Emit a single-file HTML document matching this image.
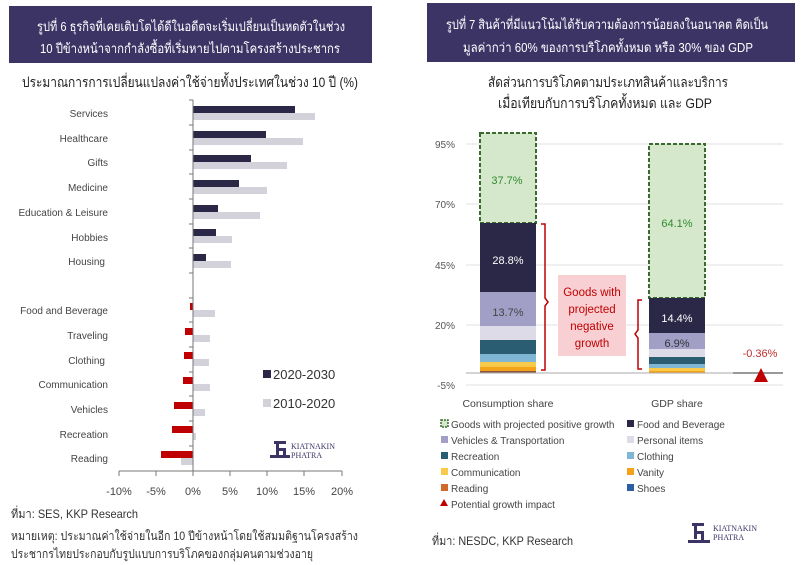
<!DOCTYPE html>
<html><head><meta charset="utf-8"><style>
body{margin:0;background:#fff;}
svg{display:block;font-family:"Liberation Sans","Noto Sans CJK SC","WenQuanYi Zen Hei",sans-serif;}
</style></head><body>
<svg width="802" height="565" viewBox="0 0 802 565" xmlns="http://www.w3.org/2000/svg">
<rect width="802" height="565" fill="#fff"/>
<!-- Left header -->
<rect x="9" y="6" width="363" height="57" fill="#3d3466"/>
<text x="37" y="31" fill="#fff" font-size="13" textLength="308" lengthAdjust="spacingAndGlyphs">รูปที่ 6 ธุรกิจที่เคยเติบโตได้ดีในอดีตจะเริ่มเปลี่ยนเป็นหดตัวในช่วง</text>
<text x="40" y="53" fill="#fff" font-size="13" textLength="300" lengthAdjust="spacingAndGlyphs">10 ปีข้างหน้าจากกำลังซื้อที่เริ่มหายไปตามโครงสร้างประชากร</text>
<text x="22" y="87" fill="#222" font-size="14" textLength="336" lengthAdjust="spacingAndGlyphs">ประมาณการการเปลี่ยนแปลงค่าใช้จ่ายทั้งประเทศในช่วง 10 ปี (%)</text>

<!-- Left chart -->
<g font-size="10" fill="#444" text-anchor="end">
<text x="108" y="117">Services</text>
<text x="108" y="142">Healthcare</text>
<text x="108" y="166">Gifts</text>
<text x="108" y="191">Medicine</text>
<text x="108" y="216">Education &amp; Leisure</text>
<text x="108" y="241">Hobbies</text>
<text x="105" y="265">Housing</text>
<text x="108" y="314">Food and Beverage</text>
<text x="108" y="339">Traveling</text>
<text x="105" y="364">Clothing</text>
<text x="108" y="388">Communication</text>
<text x="108" y="413">Vehicles</text>
<text x="108" y="438">Recreation</text>
<text x="108" y="462">Reading</text>
</g>
<g>
<rect x="193" y="106" width="102" height="7" fill="#2a2846"/><rect x="193" y="113" width="122" height="7" fill="#d3d2da"/>
<rect x="193" y="131" width="73" height="7" fill="#2a2846"/><rect x="193" y="138" width="110" height="7" fill="#d3d2da"/>
<rect x="193" y="155" width="58" height="7" fill="#2a2846"/><rect x="193" y="162" width="94" height="7" fill="#d3d2da"/>
<rect x="193" y="180" width="46" height="7" fill="#2a2846"/><rect x="193" y="187" width="74" height="7" fill="#d3d2da"/>
<rect x="193" y="205" width="25" height="7" fill="#2a2846"/><rect x="193" y="212" width="67" height="7" fill="#d3d2da"/>
<rect x="193" y="229" width="23" height="7" fill="#2a2846"/><rect x="193" y="236" width="39" height="7" fill="#d3d2da"/>
<rect x="193" y="254" width="13" height="7" fill="#2a2846"/><rect x="193" y="261" width="38" height="7" fill="#d3d2da"/>
<rect x="190" y="303" width="3" height="7" fill="#c00000"/><rect x="193" y="310" width="22" height="7" fill="#d3d2da"/>
<rect x="185" y="328" width="8" height="7" fill="#c00000"/><rect x="193" y="335" width="17" height="7" fill="#d3d2da"/>
<rect x="184" y="352" width="9" height="7" fill="#c00000"/><rect x="193" y="359" width="16" height="7" fill="#d3d2da"/>
<rect x="183" y="377" width="10" height="7" fill="#c00000"/><rect x="193" y="384" width="17" height="7" fill="#d3d2da"/>
<rect x="174" y="402" width="19" height="7" fill="#c00000"/><rect x="193" y="409" width="12" height="7" fill="#d3d2da"/>
<rect x="172" y="426" width="21" height="7" fill="#c00000"/><rect x="193" y="433" width="3" height="7" fill="#d3d2da"/>
<rect x="161" y="451" width="32" height="7" fill="#c00000"/><rect x="181" y="458" width="12" height="7" fill="#d3d2da"/>
</g>
<g stroke="#777" stroke-width="1">
<line x1="193" y1="100" x2="193" y2="471"/>
<line x1="119" y1="471" x2="342" y2="471"/>
<line x1="119" y1="471" x2="119" y2="476"/><line x1="156" y1="471" x2="156" y2="476"/><line x1="193" y1="471" x2="193" y2="476"/>
<line x1="230" y1="471" x2="230" y2="476"/><line x1="267" y1="471" x2="267" y2="476"/><line x1="304" y1="471" x2="304" y2="476"/><line x1="342" y1="471" x2="342" y2="476"/>
<line x1="189" y1="100" x2="193" y2="100"/><line x1="189" y1="125" x2="193" y2="125"/><line x1="189" y1="150" x2="193" y2="150"/><line x1="189" y1="174" x2="193" y2="174"/><line x1="189" y1="199" x2="193" y2="199"/><line x1="189" y1="224" x2="193" y2="224"/><line x1="189" y1="248" x2="193" y2="248"/><line x1="189" y1="273" x2="193" y2="273"/><line x1="189" y1="298" x2="193" y2="298"/><line x1="189" y1="322" x2="193" y2="322"/><line x1="189" y1="347" x2="193" y2="347"/><line x1="189" y1="372" x2="193" y2="372"/><line x1="189" y1="396" x2="193" y2="396"/><line x1="189" y1="421" x2="193" y2="421"/><line x1="189" y1="446" x2="193" y2="446"/>
</g>
<g font-size="11" fill="#444" text-anchor="middle">
<text x="119" y="495">-10%</text><text x="156" y="495">-5%</text><text x="193" y="495">0%</text><text x="230" y="495">5%</text><text x="267" y="495">10%</text><text x="304" y="495">15%</text><text x="342" y="495">20%</text>
</g>
<rect x="263" y="370" width="8" height="8" fill="#2a2846"/>
<text x="273" y="379" font-size="13" fill="#333">2020-2030</text>
<rect x="263" y="399" width="8" height="8" fill="#d3d2da"/>
<text x="273" y="408" font-size="13" fill="#333">2010-2020</text>
<g fill="#3d3466">
<rect x="274" y="441" width="12" height="3"/><rect x="276" y="441" width="3" height="14"/><rect x="276" y="448" width="10" height="3"/><rect x="283" y="448" width="3" height="9"/><rect x="270" y="455" width="20" height="3"/>
<text x="291" y="449" font-size="8" font-family="Liberation Serif,serif">KIATNAKIN</text>
<text x="291" y="458" font-size="8" font-family="Liberation Serif,serif">PHATRA</text>
</g>
<g font-size="12" fill="#333">
<text x="11" y="518" textLength="127" lengthAdjust="spacingAndGlyphs">ที่มา: SES, KKP Research</text>
<text x="11" y="540" textLength="347" lengthAdjust="spacingAndGlyphs">หมายเหตุ: ประมาณค่าใช้จ่ายในอีก 10 ปีข้างหน้าโดยใช้สมมติฐานโครงสร้าง</text>
<text x="11" y="558" textLength="302" lengthAdjust="spacingAndGlyphs">ประชากรไทยประกอบกับรูปแบบการบริโภคของกลุ่มคนตามช่วงอายุ</text>
</g>

<!-- Right header -->
<rect x="427" y="3" width="368" height="59" fill="#3d3466"/>
<text x="446" y="29" fill="#fff" font-size="13" textLength="322" lengthAdjust="spacingAndGlyphs">รูปที่ 7 สินค้าที่มีแนวโน้มได้รับความต้องการน้อยลงในอนาคต คิดเป็น</text>
<text x="463" y="52" fill="#fff" font-size="13" textLength="290" lengthAdjust="spacingAndGlyphs">มูลค่ากว่า 60% ของการบริโภคทั้งหมด หรือ 30% ของ GDP</text>
<text x="488" y="87" fill="#222" font-size="14" textLength="240" lengthAdjust="spacingAndGlyphs">สัดส่วนการบริโภคตามประเภทสินค้าและบริการ</text>
<text x="498" y="108" fill="#222" font-size="14" textLength="214" lengthAdjust="spacingAndGlyphs">เมื่อเทียบกับการบริโภคทั้งหมด และ GDP</text>

<g stroke="#e2e2e2" stroke-width="1">
<line x1="466" y1="144" x2="783" y2="144"/><line x1="466" y1="204" x2="783" y2="204"/><line x1="466" y1="265" x2="783" y2="265"/><line x1="466" y1="325" x2="783" y2="325"/><line x1="466" y1="385" x2="783" y2="385"/>
</g>
<g font-size="10" fill="#555" text-anchor="end">
<text x="455" y="148">95%</text><text x="455" y="208">70%</text><text x="455" y="269">45%</text><text x="455" y="329">20%</text><text x="455" y="389">-5%</text>
</g>
<rect x="480" y="133" width="56" height="90" fill="#d6e8cc" stroke="#3a6a2e" stroke-width="2" stroke-dasharray="4,2"/>
<rect x="480" y="223" width="56" height="69" fill="#2a2846"/>
<rect x="480" y="292" width="56" height="34" fill="#a29fc6"/>
<rect x="480" y="326" width="56" height="14" fill="#dddbe8"/>
<rect x="480" y="340" width="56" height="14" fill="#2a5d72"/>
<rect x="480" y="354" width="56" height="8" fill="#7fb6d4"/>
<rect x="480" y="362" width="56" height="5" fill="#f9c94a"/>
<rect x="480" y="367" width="56" height="4" fill="#f5a21b"/>
<rect x="480" y="371" width="56" height="2" fill="#8a5540"/>
<rect x="649" y="144" width="56" height="154" fill="#d6e8cc" stroke="#3a6a2e" stroke-width="2" stroke-dasharray="4,2"/>
<rect x="649" y="298" width="56" height="35" fill="#2a2846"/>
<rect x="649" y="333" width="56" height="16" fill="#a29fc6"/>
<rect x="649" y="349" width="56" height="8" fill="#dddbe8"/>
<rect x="649" y="357" width="56" height="7" fill="#2a5d72"/>
<rect x="649" y="364" width="56" height="4" fill="#7fb6d4"/>
<rect x="649" y="368" width="56" height="3" fill="#f9c94a"/>
<rect x="649" y="371" width="56" height="2" fill="#f5a21b"/>
<line x1="466" y1="373" x2="783" y2="373" stroke="#aaa" stroke-width="1"/>
<line x1="733" y1="373" x2="783" y2="373" stroke="#999" stroke-width="2"/>
<g font-size="11" text-anchor="middle">
<text x="507" y="184" fill="#2e8b2e">37.7%</text>
<text x="508" y="264" fill="#fff">28.8%</text>
<text x="508" y="316" fill="#444">13.7%</text>
<text x="677" y="227" fill="#2e8b2e">64.1%</text>
<text x="677" y="322" fill="#fff">14.4%</text>
<text x="677" y="347" fill="#333">6.9%</text>
<text x="760" y="357" fill="#c03030">-0.36%</text>
</g>
<path d="M541 224 H545 V298 L548 302 L545 306 V370 H541" fill="none" stroke="#c00000" stroke-width="1.5"/>
<path d="M642 300 H638 V330 L635 334 L638 338 V369 H642" fill="none" stroke="#c00000" stroke-width="1.5"/>
<rect x="558" y="275" width="68" height="81" fill="#f8d0d4"/>
<g font-size="11.5" fill="#c00000" text-anchor="middle">
<text x="592" y="296">Goods with</text><text x="592" y="313">projected</text><text x="592" y="330">negative</text><text x="592" y="347">growth</text>
</g>
<polygon points="761,368 768,382 754,382" fill="#c00000"/>
<g font-size="10.5" fill="#444" text-anchor="middle">
<text x="508" y="407">Consumption share</text><text x="677" y="407">GDP share</text>
</g>
<g font-size="10" fill="#444">
<rect x="441" y="420" width="7" height="7" fill="#d6e8cc" stroke="#3a6a2e" stroke-width="1.5" stroke-dasharray="2,1"/><text x="451" y="428">Goods with projected positive growth</text>
<rect x="627" y="420" width="7" height="7" fill="#2a2846"/><text x="637" y="428">Food and Beverage</text>
<rect x="441" y="436" width="7" height="7" fill="#a29fc6"/><text x="451" y="444">Vehicles &amp; Transportation</text>
<rect x="627" y="436" width="7" height="7" fill="#dddbe8"/><text x="637" y="444">Personal items</text>
<rect x="441" y="452" width="7" height="7" fill="#2a5d72"/><text x="451" y="460">Recreation</text>
<rect x="627" y="452" width="7" height="7" fill="#7fb6d4"/><text x="637" y="460">Clothing</text>
<rect x="441" y="468" width="7" height="7" fill="#f9c94a"/><text x="451" y="476">Communication</text>
<rect x="627" y="468" width="7" height="7" fill="#f5a21b"/><text x="637" y="476">Vanity</text>
<rect x="441" y="484" width="7" height="7" fill="#d0692a"/><text x="451" y="492">Reading</text>
<rect x="627" y="484" width="7" height="7" fill="#2e5da8"/><text x="637" y="492">Shoes</text>
<polygon points="444,499 448,506 440,506" fill="#c00000"/><text x="451" y="508">Potential growth impact</text>
</g>
<text x="432" y="545" font-size="12" fill="#333" textLength="141" lengthAdjust="spacingAndGlyphs">ที่มา: NESDC, KKP Research</text>
<g fill="#3d3466">
<rect x="692" y="523" width="12" height="3"/><rect x="694" y="523" width="3" height="16"/><rect x="694" y="531" width="10" height="3"/><rect x="701" y="531" width="3" height="10"/><rect x="688" y="540" width="22" height="3"/>
<text x="713" y="531" font-size="8" font-family="Liberation Serif,serif">KIATNAKIN</text>
<text x="713" y="540" font-size="8" font-family="Liberation Serif,serif">PHATRA</text>
</g>
</svg>
</body></html>
